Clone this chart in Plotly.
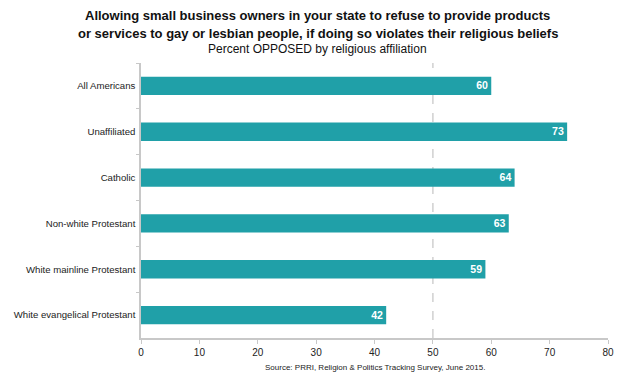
import plotly.graph_objects as go

categories = ["All Americans", "Unaffiliated", "Catholic", "Non-white Protestant",
              "White mainline Protestant", "White evangelical Protestant"]
values = [60, 73, 64, 63, 59, 42]
x_ticks = [0, 10, 20, 30, 40, 50, 60, 70, 80]

FONT = "Liberation Sans, Arial, sans-serif"

fig = go.Figure(go.Bar(
    y=categories, x=values, orientation="h",
    marker=dict(color="#20a0a8", line=dict(width=0)),
    width=0.4,
    text=[str(v) for v in values],
    textposition="inside", insidetextanchor="end", textangle=0,
    textfont=dict(family=FONT, size=12, color="white", weight="bold"),
))

fig.add_shape(type="line", xref="x", yref="paper", x0=50, x1=50, y0=0, y1=1,
              line=dict(color="#d0d0d0", width=1.5, dash="dash"), layer="below")

title_lines = [
    ("<b>Allowing small business owners in your state to refuse to provide products</b>", 13, 1.171),
    ("<b>or services to gay or lesbian people, if doing so violates their religious beliefs</b>", 13, 1.109),
    ("Percent OPPOSED by religious affiliation", 12, 1.052),
]
annotations = [dict(text=t, xref="paper", yref="paper", x=0.5, y=y, xanchor="center",
                    yanchor="middle", showarrow=False, xshift=-57,
                    font=dict(family=FONT, size=s, color="#111"))
               for t, s, y in title_lines]
annotations.append(dict(text="Source: PRRI, Religion &amp; Politics Tracking Survey, June 2015.",
                        xref="paper", yref="paper", x=0.5, y=-0.1055, xanchor="center",
                        yanchor="middle", showarrow=False,
                        font=dict(family=FONT, size=8, color="#222")))

fig.update_layout(
    width=622, height=367,
    margin=dict(l=133, r=22, t=55, b=37, autoexpand=False),
    paper_bgcolor="white", plot_bgcolor="white",
    showlegend=False,
    font=dict(family=FONT, size=10, color="#222"),
    xaxis=dict(range=[0, 80], tickvals=x_ticks, showgrid=False, zeroline=False,
               showline=True, linecolor="#c8c8c8", linewidth=1.5,
               ticks="outside", ticklen=4, tickcolor="#c8c8c8",
               tickfont=dict(size=10, color="#222"), automargin=False),
    yaxis=dict(autorange="reversed", showgrid=False, showline=True,
               linecolor="#c8c8c8", linewidth=1.5,
               ticks="outside", tickson="boundaries", ticklen=3, tickcolor="#c8c8c8",
               tickfont=dict(size=9.6, color="#222"), ticklabelstandoff=2,
               automargin=False),
    annotations=annotations,
)

fig.write_html("out.html")
